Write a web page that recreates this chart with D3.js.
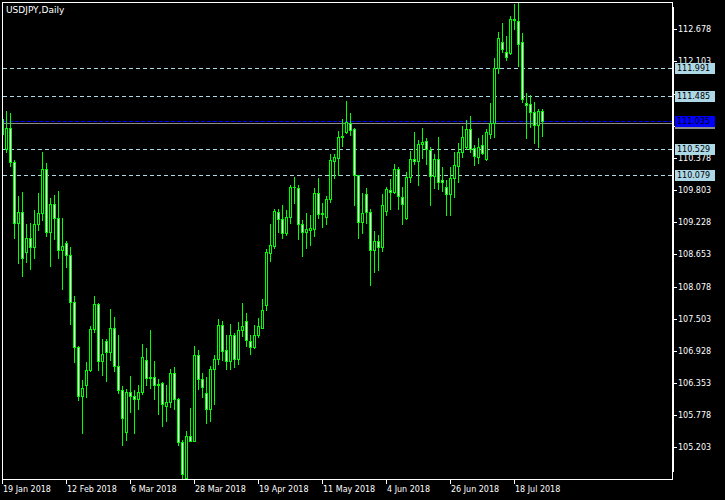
<!DOCTYPE html>
<html><head><meta charset="utf-8">
<script src="https://cdn.jsdelivr.net/npm/d3@7"></script>
<style>html,body{margin:0;padding:0;background:#000;} svg{display:block}</style>
</head><body><svg id="c" width="725" height="500"></svg>
<script>
const symbolTitle = "USDJPY,Daily";
const startDate = "2018-01-19";

const opens = [111.08,110.54,110.91,110.30,109.21,109.41,108.69,108.94,108.78,109.19,
109.39,110.18,109.06,109.55,109.30,108.74,108.85,108.64,107.81,107.00,
106.12,106.32,106.58,107.31,107.76,106.74,107.10,106.90,107.33,106.66,
106.22,105.48,106.19,106.12,106.06,106.19,106.77,106.44,106.46,106.31,
106.35,105.95,106.02,106.53,106.06,105.30,104.65,105.41,105.32,106.85,
106.42,106.17,105.88,106.60,106.78,107.39,106.94,106.74,107.22,106.78,
107.30,107.46,107.10,106.99,107.22,107.34,107.75,108.68,108.81,109.41,
109.28,109.04,109.33,109.85,109.84,109.19,109.06,109.08,109.11,109.75,
109.38,109.33,109.64,110.33,110.38,110.75,110.85,111.00,110.89,110.07,
109.24,109.73,109.41,108.74,108.90,108.79,109.42,109.80,109.76,110.18,
109.67,109.30,110.03,110.36,110.32,110.62,110.68,110.52,110.05,110.35,
109.98,109.85,109.73,110.02,110.24,110.48,110.58,110.90,110.56,110.40,
110.60,110.36,110.81,111.01,111.99,112.45,112.27,112.25,112.86,112.83,
112.45,111.36,111.34,111.19,110.97,111.22];
const highs = [111.20,111.22,111.18,110.34,109.70,109.77,109.20,109.21,109.45,109.75,
110.48,110.29,109.66,109.72,109.79,109.30,108.89,108.79,107.91,107.01,
106.41,106.73,107.37,107.91,107.78,107.14,107.14,107.68,107.53,107.21,
106.30,106.25,106.48,106.23,106.31,107.05,106.98,107.30,106.75,106.42,
106.37,106.31,106.60,106.64,106.09,105.34,105.49,105.91,107.02,106.94,
106.53,106.46,106.66,106.85,107.50,107.46,107.21,107.41,107.25,107.44,
107.78,107.61,107.21,107.39,107.52,107.86,108.75,109.20,109.46,109.46,
109.54,109.45,109.89,110.03,109.89,109.27,109.39,109.36,109.84,110.02,
109.58,109.69,110.45,110.45,110.86,111.07,111.40,111.18,110.91,110.08,
109.75,109.84,109.47,109.07,109.00,109.73,109.86,110.00,110.27,110.22,
109.86,110.13,110.50,110.84,110.70,110.91,110.74,110.57,110.45,110.75,
110.22,109.98,110.22,110.49,110.64,110.95,111.06,111.13,110.60,110.73,
110.79,110.89,111.36,112.17,112.63,112.79,112.56,112.92,113.13,113.15,
112.61,111.54,111.50,111.38,111.25,111.25];
const lows = [110.62,110.49,110.24,108.95,108.49,108.27,108.51,108.40,108.59,109.08,
109.27,108.99,108.45,108.92,108.58,108.04,108.43,107.40,106.72,106.04,
105.45,106.10,106.56,107.27,106.59,106.50,106.38,106.77,106.56,106.17,
105.25,105.34,105.84,105.45,105.89,106.15,106.32,106.26,106.06,105.79,
105.59,105.68,105.93,105.88,105.25,104.64,104.64,105.31,105.31,106.25,
106.11,105.64,105.68,105.98,106.70,106.76,106.61,106.61,106.64,106.70,
107.20,107.02,106.88,106.98,107.18,107.34,107.65,108.54,108.77,109.06,
108.95,109.00,109.22,109.58,108.92,108.62,108.76,108.82,108.98,109.30,
109.15,109.20,109.59,110.02,110.07,110.59,110.83,110.78,109.54,108.95,
109.04,109.22,108.11,108.34,108.38,108.72,109.36,109.47,109.75,109.47,
109.19,109.29,109.95,110.27,109.89,110.38,110.27,109.54,109.84,109.83,
109.78,109.36,109.36,109.67,109.95,110.39,110.54,110.49,110.25,110.28,
110.45,110.34,110.73,110.75,111.90,112.28,112.13,112.23,112.68,112.02,
111.37,110.74,110.93,110.65,110.57,110.77];
const closes = [110.80,110.91,110.30,109.21,109.41,108.58,108.94,108.78,109.19,109.39,
110.18,109.06,109.55,109.30,108.74,108.80,108.64,107.81,106.99,106.12,
106.26,106.58,107.31,107.76,106.74,106.88,106.90,107.33,106.66,106.22,
105.73,106.19,106.12,106.06,106.19,106.81,106.44,106.46,106.31,106.33,
105.98,106.02,106.53,106.06,105.30,104.73,105.41,105.32,106.85,106.42,
106.28,105.88,106.60,106.78,107.39,106.93,106.74,107.22,106.78,107.30,
107.37,107.12,106.99,107.22,107.37,107.65,108.69,108.82,109.42,109.29,
109.04,109.32,109.85,109.86,109.19,109.06,109.11,109.13,109.75,109.38,
109.40,109.65,110.34,110.40,110.75,110.77,111.02,110.88,110.07,109.24,
109.39,109.41,108.74,108.90,108.79,109.53,109.82,109.77,110.18,109.70,
109.55,110.03,110.36,110.33,110.63,110.66,110.54,110.06,110.36,109.94,
109.95,109.73,110.02,110.25,110.48,110.75,110.90,110.54,110.42,110.58,
110.46,110.84,111.01,111.99,112.52,112.33,112.18,112.86,112.84,112.42,
111.44,111.33,111.19,110.96,111.21,111.035];

const xTickLabels = ["19 Jan 2018","12 Feb 2018","6 Mar 2018","28 Mar 2018","19 Apr 2018","11 May 2018","4 Jun 2018","26 Jun 2018","18 Jul 2018"];
const yTickValues = [112.678,112.103,111.528,110.953,110.378,109.803,109.228,108.653,108.078,107.503,106.928,106.353,105.778,105.203];
// tick values whose label is fully covered by a level label in the reference
const yTickHiddenText = [111.528];
const levelPrices = [111.991,111.485,110.529,110.079];
const currentPrice = 111.035;
const grayLinePrice = 111.00;
const priceDomain = [104.636, 113.166];

// trading-day dates (weekdays) for each bar
const fmt = d3.timeFormat("%-d %b %Y");
const dates = [];
let d = d3.timeParse("%Y-%m-%d")(startDate);
while (dates.length < opens.length) {
  const wd = d.getDay();
  if (wd !== 0 && wd !== 6) dates.push(new Date(d));
  d = d3.timeDay.offset(d, 1);
}
const dateLabels = dates.map(fmt);

const svg = d3.select("#c").attr("shape-rendering", "crispEdges");
const FONT = "DejaVu Sans, Verdana, sans-serif";
const GREEN = "#00ff00";
const LBLUE = "#add8e6";

const x = d3.scaleLinear().domain([0, 167.5]).range([2, 672]);
const y = d3.scaleLinear().domain(priceDomain).range([479, 2]);
const px = i => Math.round(x(i));
const py = p => Math.round(y(p));

svg.append("rect").attr("width", 725).attr("height", 500).attr("fill", "#000");

// level lines
levelPrices.forEach(p => {
  svg.append("line").attr("x1", 3).attr("x2", 672)
    .attr("y1", py(p) + 0.5).attr("y2", py(p) + 0.5)
    .attr("stroke", LBLUE).attr("stroke-dasharray", "4,3");
});
svg.append("line").attr("x1", 3).attr("x2", 672)
  .attr("y1", py(grayLinePrice) + 0.5).attr("y2", py(grayLinePrice) + 0.5)
  .attr("stroke", "#8c8c8c");
svg.append("line").attr("x1", 3).attr("x2", 672)
  .attr("y1", py(currentPrice) + 0.5).attr("y2", py(currentPrice) + 0.5)
  .attr("stroke", "#0000ff").attr("stroke-dasharray", "4,2");

// candles
const g = svg.append("g");
opens.forEach((o, i) => {
  const c = closes[i], h = highs[i], l = lows[i];
  const cx = px(i);
  const yh = py(h), yl = py(l);
  g.append("rect").attr("x", cx).attr("y", yh).attr("width", 1)
    .attr("height", Math.max(1, yl - yh + 1)).attr("fill", GREEN);
  const top = py(Math.max(o, c)), bot = py(Math.min(o, c));
  g.append("rect").attr("x", cx - 1).attr("y", top).attr("width", 3)
    .attr("height", bot - top + 1).attr("fill", GREEN);
  if (bot - top >= 2) {
    g.append("rect").attr("x", cx).attr("y", top + 1).attr("width", 1)
      .attr("height", bot - top - 1).attr("fill", c < o ? "#ffffff" : "#000000");
  }
});

// cover outside left of frame
svg.append("rect").attr("x", 0).attr("y", 0).attr("width", 2).attr("height", 500).attr("fill", "#000");

// frame
svg.append("rect").attr("x", 2.5).attr("y", 2.5).attr("width", 670).attr("height", 477)
  .attr("fill", "none").attr("stroke", "#fff");
svg.append("rect").attr("x", 672).attr("y", 7).attr("width", 2).attr("height", 465).attr("fill", "#fff");

// title
svg.append("text").attr("x", 6).attr("y", 13).attr("fill", "#fff")
  .attr("font-family", FONT).attr("font-size", 9).text(symbolTitle);

// y axis ticks
yTickValues.forEach(t => {
  const yy = py(t);
  svg.append("line").attr("x1", 674).attr("x2", 677).attr("y1", yy + 0.5).attr("y2", yy + 0.5).attr("stroke", "#fff");
  if (yTickHiddenText.includes(t)) return;
  svg.append("text").attr("x", 678).attr("y", yy + 3).attr("fill", "#fff")
    .attr("font-family", FONT).attr("font-size", 8).text(t.toFixed(3));
});

// level labels
levelPrices.forEach(p => {
  const yy = py(p);
  svg.append("rect").attr("x", 675).attr("y", yy - 5).attr("width", 40).attr("height", 11).attr("fill", LBLUE);
  svg.append("text").attr("x", 677).attr("y", yy + 3).attr("fill", "#000")
    .attr("font-family", FONT).attr("font-size", 8).text(p.toFixed(3));
});
{
  const yy = py(currentPrice);
  svg.append("rect").attr("x", 675).attr("y", yy + 6).attr("width", 40).attr("height", 2).attr("fill", "#8c8c8c");
  svg.append("rect").attr("x", 675).attr("y", yy - 5).attr("width", 40).attr("height", 11).attr("fill", "#0000ff");
  svg.append("text").attr("x", 677).attr("y", yy + 3).attr("fill", "#000")
    .attr("font-family", FONT).attr("font-size", 8).text(currentPrice.toFixed(3));
}

// x axis ticks
xTickLabels.forEach(lbl => {
  const i = dateLabels.indexOf(lbl);
  if (i < 0) return;
  const xx = px(i);
  svg.append("line").attr("x1", xx + 0.5).attr("x2", xx + 0.5).attr("y1", 480).attr("y2", 484).attr("stroke", "#fff");
  svg.append("text").attr("x", xx + 1).attr("y", 492).attr("fill", "#fff")
    .attr("font-family", FONT).attr("font-size", 8).text(lbl);
});
</script></body></html>
